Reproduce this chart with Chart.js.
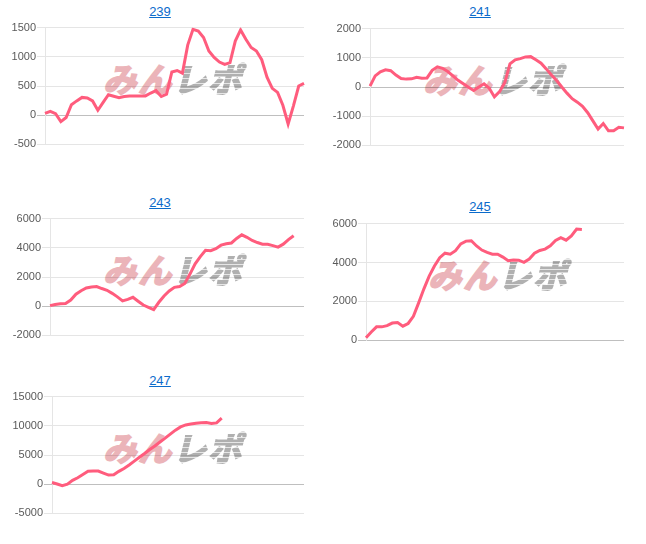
<!DOCTYPE html>
<html><head><meta charset="utf-8">
<script src="https://cdn.jsdelivr.net/npm/chart.js@4"></script>
<style>
html,body{margin:0;padding:0;background:#fff;width:646px;height:544px;overflow:hidden;font-family:Arial,"Liberation Sans",sans-serif;}
.title{position:absolute;width:320px;text-align:center;font-size:13px;line-height:16px;}
.title a{color:#0b6bcb;text-decoration:underline;}
.wm{position:absolute;font-family:"Noto Sans CJK JP",sans-serif;font-weight:bold;font-size:33px;line-height:30px;letter-spacing:2px;white-space:nowrap;transform:skewX(-14deg);transform-origin:left bottom;}
.wm .p{color:#ebb4b9;-webkit-text-stroke:2px #ebb4b9;}
.wm .g{-webkit-text-stroke:2px transparent;background:repeating-linear-gradient(to bottom,#b0b0b0 0,#b0b0b0 4px,#e6e6e6 4px,#e6e6e6 5px);-webkit-background-clip:text;background-clip:text;-webkit-text-fill-color:transparent;}
canvas{position:absolute;}
</style></head><body>
<script>
const titles = ["239", "241", "243", "245", "247"];
const s239 = [30,65,25,-110,-40,180,245,305,295,245,85,220,350,325,300,320,330,330,330,330,380,420,320,360,740,765,720,1200,1470,1440,1330,1100,990,910,870,900,1270,1460,1300,1160,1100,950,650,460,390,170,-150,160,500,545];
const s241 = [30,380,520,590,560,410,290,270,280,335,300,310,570,690,640,530,380,230,110,-10,-120,0,110,-40,-340,-160,150,790,930,970,1030,1040,930,815,620,410,220,0,-210,-400,-520,-660,-880,-1160,-1440,-1250,-1500,-1500,-1380,-1400];
const s243 = [40,120,170,190,420,820,1060,1250,1320,1350,1210,1090,880,640,360,470,610,340,80,-80,-230,270,700,1040,1290,1350,1560,2200,2900,3400,3830,3800,3940,4180,4280,4330,4640,4890,4720,4500,4360,4250,4240,4150,4050,4250,4560,4830,null,null];
const s245 = [135,430,695,695,760,890,920,730,870,1240,1930,2650,3300,3820,4250,4480,4430,4610,4960,5100,5120,4850,4640,4520,4430,4425,4280,4090,4130,4120,4010,4180,4480,4620,4690,4860,5130,5280,5150,5370,5720,5700,null,null,null,null,null,null,null,null];
const s247 = [280,40,-270,0,650,1100,1650,2220,2250,2250,1900,1560,1600,2200,2700,3300,3950,4620,5250,5930,6550,7230,7880,8580,9250,9800,10150,10300,10450,10520,10560,10380,10500,11300,null,null,null,null,null,null,null,null,null,null,null,null,null,null,null,null];
const yMin = [-500, -2000, -2000, 0, -5000];
const yMax = [1500, 2000, 6000, 6000, 15000];
const yStep = [500, 1000, 2000, 2000, 5000];
const series = [s239, s241, s243, s245, s247];

// layout (pixels)
const layout = [
  {cellX:0,   titleY:4,   plotTop:27,  axisW:35, wmX:103, wmY:63},
  {cellX:320, titleY:4,   plotTop:28,  axisW:40, wmX:423, wmY:64},
  {cellX:0,   titleY:195, plotTop:218, axisW:40, wmX:103, wmY:254},
  {cellX:320, titleY:199, plotTop:223, axisW:36, wmX:428, wmY:259},
  {cellX:0,   titleY:373, plotTop:396, axisW:42, wmX:103, wmY:432}
];
const PLOT_H = 118;

titles.forEach((t, k) => {
  const L = layout[k];
  const wm = document.createElement('div');
  wm.className = 'wm';
  wm.style.left = L.wmX + 'px';
  wm.style.top = L.wmY + 'px';
  wm.innerHTML = '<span class="p">みん</span><span class="g">レポ</span>';
  document.body.appendChild(wm);

  const td = document.createElement('div');
  td.className = 'title';
  td.style.left = L.cellX + 'px';
  td.style.top = L.titleY + 'px';
  td.innerHTML = '<a href="#">' + t + '</a>';
  document.body.appendChild(td);

  const cv = document.createElement('canvas');
  const top = L.plotTop - 7;
  cv.width = 300; cv.height = PLOT_H + 14;
  cv.style.left = (L.cellX + 10) + 'px';
  cv.style.top = top + 'px';
  cv.style.width = '300px'; cv.style.height = (PLOT_H + 14) + 'px';
  document.body.appendChild(cv);

  const data = series[k];
  const labels = data.map((_, i) => String(i + 1));
  new Chart(cv, {
    type: 'line',
    data: { labels, datasets: [{ data, borderColor: 'rgb(255, 92, 125)', backgroundColor: 'rgb(255, 92, 125)', borderWidth: 3, pointRadius: 0, tension: 0, fill: false }] },
    options: {
      responsive: false, animation: false,
      layout: { padding: { left: 0, right: 6, top: 0, bottom: 0 } },
      plugins: { legend: { display: false }, tooltip: { enabled: false }, title: { display: false } },
      scales: {
        x: { display: false },
        y: {
          min: yMin[k], max: yMax[k],
          afterFit: (s) => { s.width = L.axisW; },
          ticks: { stepSize: yStep[k], color: '#5a5a5a', font: { family: 'Arial, "Liberation Sans", sans-serif', size: 11 }, padding: 1, callback: (v) => String(v) },
          border: { color: 'rgba(0,0,0,0.1)' },
          grid: { color: (c) => (c.tick && c.tick.value === 0) ? 'rgba(0,0,0,0.25)' : 'rgba(0,0,0,0.1)', tickLength: 8 }
        }
      }
    }
  });
});
</script>
</body></html>
